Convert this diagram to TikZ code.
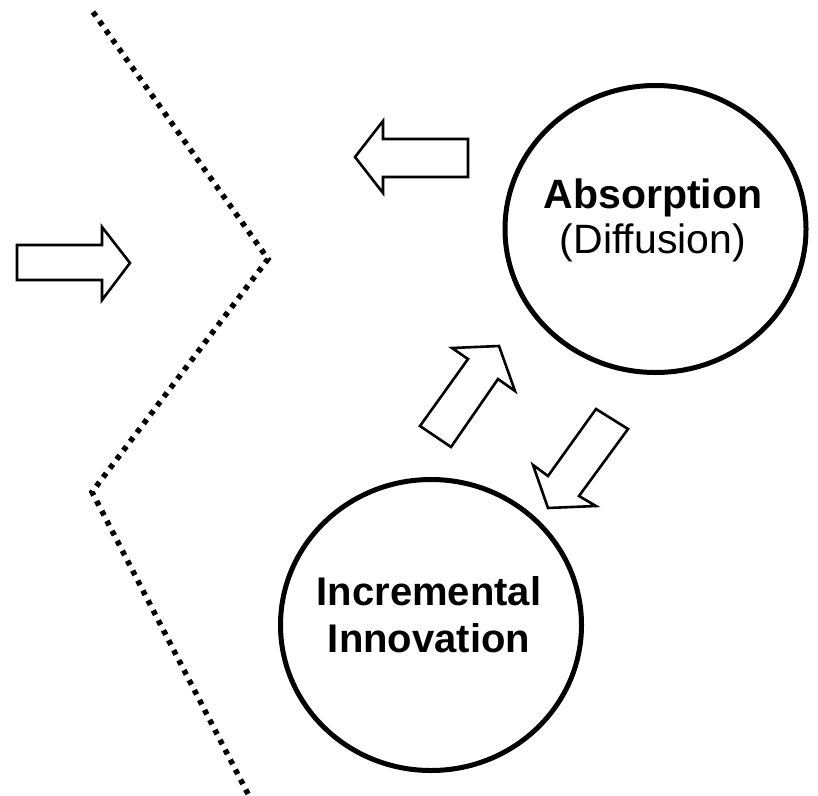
\documentclass[tikz,border=0pt]{standalone}
\usepackage{fontspec}
\setmainfont{Liberation Sans}
\usetikzlibrary{shapes.geometric}
\begin{document}
\begin{tikzpicture}[x=1pt,y=-1pt,
  ring/.style={draw=black,line width=5pt,ellipse,inner sep=0pt,outer sep=0pt},
  blockarrow/.style={draw=black,fill=white,line width=2.6pt,line join=miter},
  frontier/.style={draw=black,line width=5.5pt,dash pattern=on 5pt off 6.2pt},
  boldlabel/.style={font=\fontsize{41}{47}\selectfont\bfseries,anchor=base,inner sep=0pt},
  normlabel/.style={font=\fontsize{41}{47}\selectfont,anchor=base,inner sep=0pt}]
\useasboundingbox (0,0) rectangle (818,795);
% frontier dotted line
\coordinate (f1) at (93,12);
\coordinate (f2) at (268,259);
\coordinate (f3) at (92,492);
\coordinate (f4) at (248,794);
\draw[frontier] (f1) -- (f2) -- (f3) -- (f4);
% circles
\node[ring,minimum width=301pt,minimum height=287pt] (abs) at (655.5,229) {};
\node[ring,minimum width=301pt,minimum height=291pt] (inc) at (431,625) {};
% labels
\node[boldlabel] (absA) at (653,208) {Absorption};
\node[normlabel] (absB) at (653,253) {(Diffusion)};
\node[boldlabel,font=\fontsize{40}{46}\selectfont\bfseries] (incA) at (429,605) {Incremental};
\node[boldlabel,font=\fontsize{40}{46}\selectfont\bfseries] (incB) at (429,652) {Innovation};
% block arrows
\draw[blockarrow] (17,245) -- (102,245) -- (102,227) -- (130,263) -- (102,300) -- (102,280) -- (17,280) -- cycle;
\draw[blockarrow] (468,139) -- (383,139) -- (383,121) -- (355,157) -- (383,193) -- (383,177) -- (468,177) -- cycle;
\draw[blockarrow] (420,426) -- (468,359) -- (452,348) -- (499,346) -- (515,391) -- (498,379) -- (451,447) -- cycle;
\draw[blockarrow] (596,409) -- (628,429) -- (579,496) -- (596,506) -- (548,508) -- (533,465) -- (548,476) -- cycle;
\end{tikzpicture}
\end{document}
